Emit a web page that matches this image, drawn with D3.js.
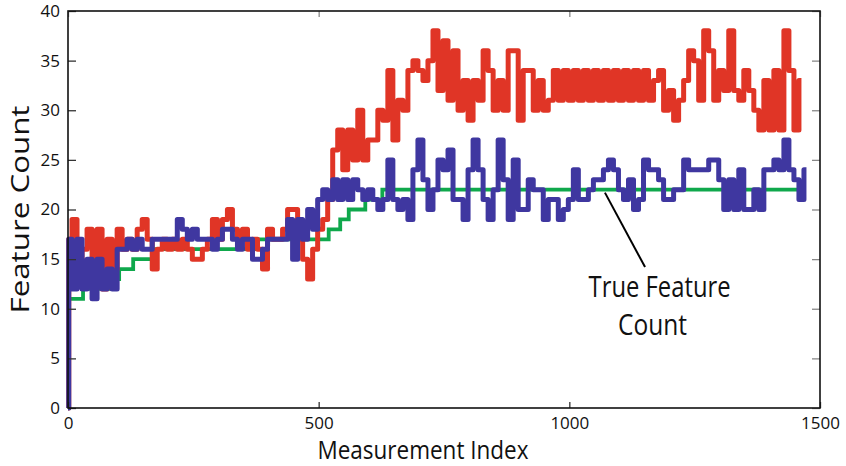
<!DOCTYPE html>
<html>
<head>
<meta charset="utf-8">
<script src="https://cdn.jsdelivr.net/npm/d3@7"></script>
<style>
  html, body { margin: 0; padding: 0; background: #fff; }
  svg { display: block; }
</style>
</head>
<body>
<svg id="chart" width="846" height="466"></svg>
<script>
// Feature count estimates sampled every 10 measurements (first sample at index 3)
const sampleStep = 10;
const sampleOffset = 3;

const redCounts = [
  17,19,13,16,18,15,18,12,17,14, 18,16,17,16,18,19,17,14,16,17,
  16,17,16,17,16,15,15,16,17,19, 17,19,20,18,17,18,16,17,16,14,
  18,17,17,18,20,20,17,15,13,16, 18,19,21,26,28,24,28,25,30,25,
  27,27,30,29,34,27,31,30,34,35, 34,33,35,38,32,37,31,36,30,33,
  29,33,31,36,34,30,33,30,36,36, 29,34,34,30,33,30,31,34,31,34,
  31,34,31,34,31,34,31,34,31,34, 31,34,31,34,31,34,31,33,34,30,
  32,29,31,33,36,35,31,38,36,31, 34,32,38,32,31,34,32,30,28,33,
  28,34,28,38,34,28,33
];

const blueCounts = [
  17,12,17,12,15,11,15,12,14,12, 16,16,17,16,17,16,16,17,17,17,
  17,17,19,18,17,18,17,17,17,16, 17,18,18,17,16,17,17,15,15,16,
  17,17,17,17,19,15,19,17,20,18, 21,22,21,23,21,23,21,23,22,21,
  22,21,20,21,25,21,20,21,19,24, 27,23,20,22,25,24,26,21,21,19,
  24,27,24,21,19,22,27,23,19,25, 20,20,23,22,22,19,21,21,19,20,
  21,24,21,21,22,23,23,24,25,24, 22,21,23,20,21,25,24,24,23,21,
  21,22,22,25,24,24,24,24,25,25, 23,20,23,20,24,20,20,22,20,24,
  24,25,24,27,24,23,21,24
];

// True feature count: step changes at these measurement indices
const trueIndex  = [0, 2, 30, 96, 102, 130, 170, 378, 520, 543, 560, 593, 627, 1458];
const trueCounts = [0, 11, 12, 13, 14, 15, 16, 17, 18, 19, 20, 21, 22, 22];

const xTicks = [0, 500, 1000, 1500];
const yTicks = [0, 5, 10, 15, 20, 25, 30, 35, 40];

// Callout for the true count line (data units)
const calloutLine = [[1071, 21.7], [1151, 14.2]];
const calloutText = [
  { text: "True Feature", index: 1180, value: 11.2, width: 142 },
  { text: "Count", index: 1166, value: 7.35, width: 69 }
];

const svg = d3.select("#chart");
const frame = { left: 68, right: 820, top: 11, bottom: 408 };

const x = d3.scaleLinear().domain([0, 1500]).range([frame.left, frame.right]);
const y = d3.scaleLinear().domain([0, 40]).range([frame.bottom, frame.top]);

const toSeries = vals => [[0, 0]].concat(vals.map((v, k) => [sampleOffset + k * sampleStep, v]));

const stepLine = d3.line().x(d => x(d[0])).y(d => y(d[1])).curve(d3.curveStep);
const stepAfter = d3.line().x(d => x(d[0])).y(d => y(d[1])).curve(d3.curveStepAfter);

const plot = svg.append("g");

plot.append("path")
  .datum(trueIndex.map((t, i) => [t, trueCounts[i]]))
  .attr("d", stepAfter)
  .attr("fill", "none")
  .attr("stroke", "#0fa84c")
  .attr("stroke-width", 3.8);

plot.append("path")
  .datum(toSeries(redCounts))
  .attr("d", stepLine)
  .attr("fill", "none")
  .attr("stroke", "#e03526")
  .attr("stroke-width", 5)
  .attr("stroke-linejoin", "round");

plot.append("path")
  .datum(toSeries(blueCounts))
  .attr("d", stepLine)
  .attr("fill", "none")
  .attr("stroke", "#3f37a0")
  .attr("stroke-width", 5)
  .attr("stroke-linejoin", "round");

// Axes with inward ticks
const tickFont = "'Open Sans', 'DejaVu Sans', sans-serif";
const fmt = d3.format("d");

const gLeft = svg.append("g").attr("transform", `translate(${frame.left},0)`)
  .call(d3.axisLeft(y).tickValues(yTicks).tickFormat(fmt).tickSize(-8).tickPadding(8));
const gBottom = svg.append("g").attr("transform", `translate(0,${frame.bottom})`)
  .call(d3.axisBottom(x).tickValues(xTicks).tickFormat(fmt).tickSize(-6).tickPadding(9));
const gRight = svg.append("g").attr("transform", `translate(${frame.right},0)`)
  .call(d3.axisRight(y).tickValues(yTicks).tickSize(-8).tickFormat(""));
const gTop = svg.append("g").attr("transform", `translate(0,${frame.top})`)
  .call(d3.axisTop(x).tickValues(xTicks).tickSize(-6).tickFormat(""));

[gLeft, gBottom, gRight, gTop].forEach(g => {
  g.select(".domain").remove();
  g.selectAll("text").attr("font-family", tickFont).attr("font-size", 17).attr("fill", "#111");
});
gLeft.selectAll("line").attr("stroke", "#333").attr("stroke-width", 1.3);
gBottom.selectAll("line").attr("stroke", "#333").attr("stroke-width", 1.3);
gRight.selectAll("line").attr("stroke", "#888").attr("stroke-width", 1.3);
gTop.selectAll("line").attr("stroke", "#888").attr("stroke-width", 1.3);

// Frame
svg.append("rect")
  .attr("x", frame.left).attr("y", frame.top)
  .attr("width", frame.right - frame.left).attr("height", frame.bottom - frame.top)
  .attr("fill", "none").attr("stroke", "#111").attr("stroke-width", 1.6);

const labelFont = "'Liberation Sans Narrow', 'Open Sans', 'DejaVu Sans', sans-serif";

svg.append("text")
  .attr("transform", `translate(29,${(frame.top + frame.bottom) / 2}) rotate(-90)`)
  .attr("text-anchor", "middle")
  .attr("font-family", labelFont).attr("font-size", 26).attr("fill", "#111")
  .attr("textLength", 208).attr("lengthAdjust", "spacingAndGlyphs")
  .text("Feature Count");

svg.append("text")
  .attr("x", 423).attr("y", 459)
  .attr("text-anchor", "middle")
  .attr("font-family", labelFont).attr("font-size", 26).attr("fill", "#111")
  .attr("textLength", 211).attr("lengthAdjust", "spacingAndGlyphs")
  .text("Measurement Index");

// Callout
svg.append("line")
  .attr("x1", x(calloutLine[0][0])).attr("y1", y(calloutLine[0][1]))
  .attr("x2", x(calloutLine[1][0])).attr("y2", y(calloutLine[1][1]))
  .attr("stroke", "#000").attr("stroke-width", 2);

svg.selectAll("text.callout")
  .data(calloutText)
  .join("text")
  .attr("class", "callout")
  .attr("x", d => x(d.index)).attr("y", d => y(d.value))
  .attr("text-anchor", "middle")
  .attr("font-family", labelFont).attr("font-size", 29).attr("fill", "#111")
  .attr("textLength", d => d.width).attr("lengthAdjust", "spacingAndGlyphs")
  .text(d => d.text);
</script>
</body>
</html>
